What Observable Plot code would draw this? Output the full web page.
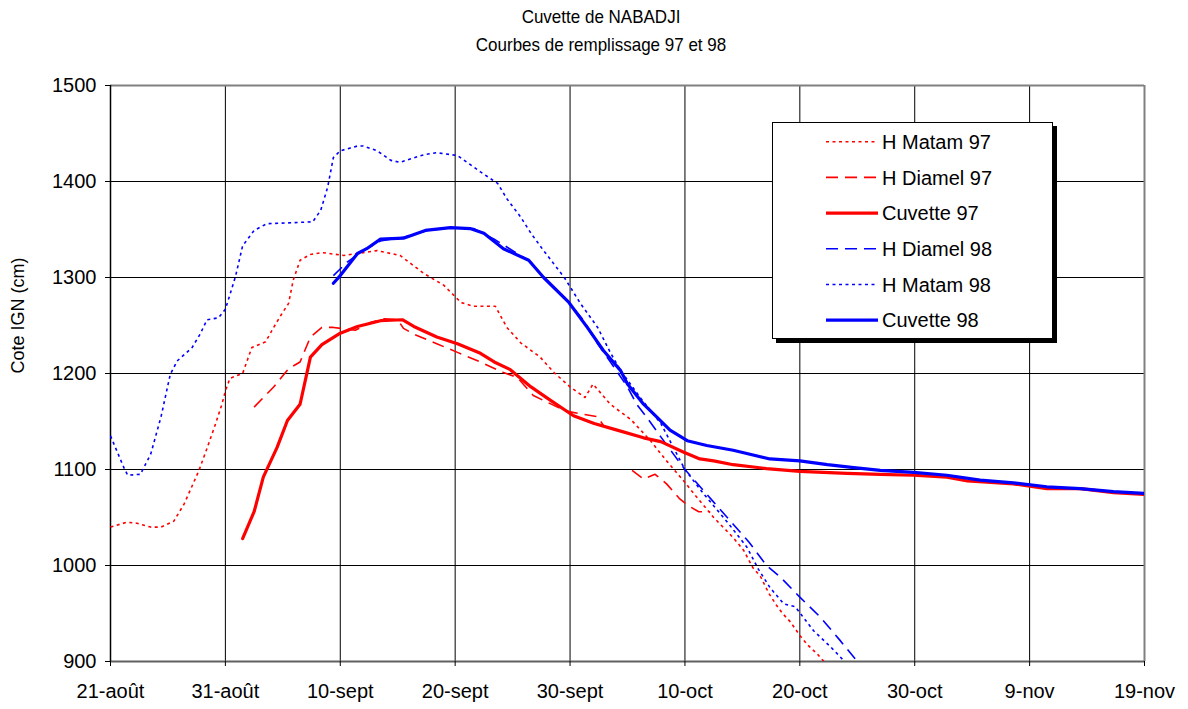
<!DOCTYPE html>
<html>
<head>
<meta charset="utf-8">
<script src="https://cdn.jsdelivr.net/npm/d3@7"></script>
<script src="https://cdn.jsdelivr.net/npm/@observablehq/plot@0.6"></script>
<style>
  html, body { margin: 0; padding: 0; background: #fff; }
  #wrap { position: relative; width: 1188px; height: 709px; font-family: 'Liberation Sans', Arial, sans-serif; color: #000; }
  .ttl { position: absolute; left: 0; width: 1202px; text-align: center; font-size: 17px; line-height: 20px; transform: scaleY(1.08); }
  #chart { position: absolute; left: 0; top: 60px; }
  #legend { position: absolute; left: 772px; top: 122px; width: 279px; height: 215px; background: #fff; border: 1px solid #000; box-shadow: 4px 4px 0 #000; }
</style>
</head>
<body>
<div id="wrap">
  <div class="ttl" id="title" style="top:8px"></div>
  <div class="ttl" id="subtitle" style="top:36px"></div>
  <div id="chart"></div>
  <div id="legend"></div>
</div>
<script>
// ---- Texts ----
const titleText = "Cuvette de NABADJI";
const subtitleText = "Courbes de remplissage 97 et 98";
const yLabel = "Cote IGN (cm)";

// ---- Axis ticks (x = days since 21 August) ----
const xTicks = [0, 10, 20, 30, 40, 50, 60, 70, 80, 90];
const xTickLabels = ["21-août", "31-août", "10-sept", "20-sept", "30-sept", "10-oct", "20-oct", "30-oct", "9-nov", "19-nov"];
const yTicks = [900, 1000, 1100, 1200, 1300, 1400, 1500];

// ---- Series ----
const seriesNames = ["H Matam 97", "H Diamel 97", "Cuvette 97", "H Diamel 98", "H Matam 98", "Cuvette 98"];

const matam97Days = [0, 1.4, 2.3, 3.5, 4.4, 5.5, 6.4, 7, 7.7, 8.4, 9.1, 9.7, 10, 10.4, 11.5, 12.3, 13.5, 14.2, 14.9, 15.5, 15.9, 16.5, 17.4, 18.4, 20.3, 23.2, 25.2, 27.3, 29, 30.5, 31.6, 33.5, 34.5, 35.7, 37.4, 38.6, 40, 41.3, 42, 43.5, 45.3, 47, 48.4, 49.9, 50.9, 52.5, 53.4, 54.2, 55.1, 55.9, 56.6, 57.3, 58, 58.5, 59.2, 60, 60.7, 61.5, 62.1];
const matam97Values = [1040, 1045, 1044, 1040, 1040, 1046, 1064, 1080, 1099, 1122, 1146, 1168, 1182, 1195, 1200, 1227, 1233, 1248, 1262, 1273, 1297, 1318, 1324, 1326, 1323, 1328, 1323, 1304, 1292, 1274, 1270, 1270, 1248, 1232, 1217, 1201, 1186, 1175, 1189, 1168, 1152, 1130, 1109, 1088, 1073, 1050, 1039, 1029, 1016, 998, 988, 971, 958, 950, 941, 927, 917, 908, 900];

const diamel97Days = [12.5, 14.2, 15.5, 16.5, 17.4, 18.4, 19.4, 21.3, 22.6, 23.8, 25, 25.5, 26.4, 28.4, 30.2, 32.2, 34.2, 35.4, 36.8, 38.9, 40, 42.4, 42.9, 44, 45.4, 46.4, 47.4, 48.4, 49.5, 50.2, 51.2, 52.2];
const diamel97Values = [1165, 1186, 1205, 1212, 1238, 1248, 1248, 1245, 1253, 1257, 1256, 1247, 1241, 1231, 1222, 1212, 1201, 1196, 1177, 1165, 1160, 1155, 1146, null, 1099, 1090, 1095, 1085, 1070, 1063, 1056, 1056];

const cuvette97Days = [11.5, 12.5, 13.3, 14.5, 15.4, 16.5, 17.4, 18.4, 20, 21.5, 23.5, 25.4, 26.4, 28.4, 30.2, 32.2, 33.4, 34.8, 36.6, 38.3, 40.3, 42.1, 44.1, 46.4, 47.9, 49.9, 51.3, 52.5, 54.2, 57.1, 60, 64.1, 67, 69.9, 72.8, 74.6, 78.6, 81.5, 84.4, 87.3, 90];
const cuvette97Values = [1028, 1056, 1092, 1123, 1151, 1168, 1217, 1230, 1242, 1249, 1255, 1256, 1249, 1238, 1231, 1221, 1212, 1204, 1186, 1172, 1156, 1148, 1141, 1133, 1129, 1118, 1111, 1109, 1105, 1101, 1098, 1096, 1095, 1094, 1092, 1088, 1085, 1080, 1080, 1076, 1074];

const diamel98Days = [19.4, 20.6, 22, 23.5, 25.5, 27.6, 29.6, 31.6, 33.4, 35.4, 36.6, 37.7, 39.9, 41.2, 42.4, 43.8, 45, 45.8, 46.7, 47.9, 49, 50, 52.5, 54.2, 55.6, 57.1, 58.3, 60, 61.8, 63.5, 65];
const diamel98Values = [1302, 1316, 1328, 1338, 1342, 1349, 1352, 1351, 1340, 1325, 1316, 1300, 1274, 1255, 1231, 1207, 1186, 1168, 1154, 1134, 1116, 1100, 1066, 1043, 1024, 1000, 988, 967, 946, 922, 900];

const matam98Days = [0, 1.2, 1.5, 2.6, 3.5, 4.4, 5.2, 5.8, 7.1, 7.8, 8.4, 9.4, 10, 10.6, 10.9, 11.5, 12.5, 13.6, 17.6, 18.3, 18.9, 19.4, 20, 21.5, 22, 23.2, 24.4, 25.2, 27.3, 28.4, 30.2, 32.2, 33.7, 34.5, 35.7, 36.6, 37.7, 39.5, 40.9, 42.4, 43.5, 44.4, 46.1, 47.9, 50, 51.6, 53.7, 55.4, 56.4, 57.4, 58.6, 59.6, 61.2, 62.7, 63.9];
const matam98Values = [1135, 1101, 1094, 1095, 1116, 1155, 1199, 1213, 1227, 1241, 1256, 1258, 1267, 1290, 1302, 1333, 1349, 1356, 1358, 1370, 1394, 1425, 1432, 1437, 1437, 1432, 1422, 1420, 1428, 1430, 1427, 1410, 1398, 1382, 1363, 1346, 1328, 1300, 1273, 1248, 1222, 1203, 1175, 1148, 1100, 1075, 1045, 1019, 996, 977, 960, 957, 932, 915, 900];

const cuvette98Days = [19.4, 20, 21.5, 22.3, 23.5, 25.5, 27.4, 29.6, 31.3, 32.5, 34.2, 36.4, 37.7, 39.9, 41.5, 42.9, 44.4, 45, 46.4, 47.6, 48.7, 50.2, 51.9, 54.2, 57.4, 60, 62.4, 64.7, 67, 69.9, 72.8, 75.7, 78.6, 81.5, 84.4, 87.3, 90];
const cuvette98Values = [1294, 1302, 1325, 1330, 1340, 1341, 1349, 1352, 1351, 1346, 1330, 1318, 1300, 1274, 1248, 1224, 1203, 1189, 1168, 1154, 1141, 1130, 1125, 1120, 1111, 1109, 1105, 1102, 1099, 1097, 1094, 1089, 1086, 1082, 1080, 1077, 1075];

// ---- Styles (presentation only) ----
const RED = "#ff0000", BLUE = "#0000ff";
const styles = {
  "H Matam 97":  {stroke: RED,  strokeWidth: 1.6, dash: "3,3.5"},
  "H Diamel 97": {stroke: RED,  strokeWidth: 1.6, dash: "12,7"},
  "Cuvette 97":  {stroke: RED,  strokeWidth: 3.2, dash: null},
  "H Diamel 98": {stroke: BLUE, strokeWidth: 1.6, dash: "12,7"},
  "H Matam 98":  {stroke: BLUE, strokeWidth: 1.6, dash: "3,3.5"},
  "Cuvette 98":  {stroke: BLUE, strokeWidth: 3.2, dash: null}
};

const zip = (days, vals) => days.map((d, i) => ({day: d, value: vals[i]}));
const seriesData = {
  "H Matam 97": zip(matam97Days, matam97Values),
  "H Diamel 97": zip(diamel97Days, diamel97Values),
  "Cuvette 97": zip(cuvette97Days, cuvette97Values),
  "H Diamel 98": zip(diamel98Days, diamel98Values),
  "H Matam 98": zip(matam98Days, matam98Values),
  "Cuvette 98": zip(cuvette98Days, cuvette98Values)
};

document.getElementById("title").textContent = titleText;
document.getElementById("subtitle").textContent = subtitleText;

const drawOrder = ["H Matam 97", "H Diamel 97", "H Matam 98", "H Diamel 98", "Cuvette 97", "Cuvette 98"];
const lineMarks = drawOrder.map(name => Plot.line(seriesData[name], {
  x: "day", y: "value",
  stroke: styles[name].stroke,
  strokeWidth: styles[name].strokeWidth,
  strokeDasharray: styles[name].dash || undefined,
  strokeLinejoin: "round",
  strokeLinecap: styles[name].dash ? "butt" : "round",
  clip: true
}));

const chart = Plot.plot({
  width: 1188,
  height: 649,
  marginTop: 25,
  marginBottom: 48,
  marginLeft: 110,
  marginRight: 44,
  x: {domain: [0, 90]},
  y: {domain: [900, 1500]},
  style: {fontFamily: "'Liberation Sans', Arial, sans-serif", fontSize: "20px", color: "#000", background: "#fff", overflow: "visible"},
  marks: [
    Plot.gridX(xTicks, {stroke: "#000", strokeOpacity: 1, strokeWidth: 1}),
    Plot.gridY(yTicks, {stroke: "#000", strokeOpacity: 1, strokeWidth: 1}),
    Plot.ruleY([1500], {stroke: "#808080", strokeWidth: 2}),
    Plot.ruleX([90], {stroke: "#808080", strokeWidth: 2}),
    Plot.ruleY([900], {stroke: "#606060", strokeWidth: 2}),
    Plot.ruleX([0], {stroke: "#000", strokeWidth: 1.5}),
    ...lineMarks,
    Plot.axisX({ticks: xTicks, tickFormat: d => xTickLabels[xTicks.indexOf(d)], tickSize: 5, tickPadding: 17, label: null, fontSize: 20}),
    Plot.axisY({ticks: yTicks, tickFormat: d => String(d), tickSize: 5, tickPadding: 9, label: null, fontSize: 20}),
    Plot.text([yLabel], {frameAnchor: "left", dx: -92, rotate: -90, text: d => d, fontSize: 18})
  ]
});
document.getElementById("chart").appendChild(chart);

// ---- Legend ----
const legend = d3.select("#legend");
const rowGap = 35.7;
const lsvg = legend.append("svg").attr("width", 279).attr("height", 215)
  .style("font-family", "'Liberation Sans', Arial, sans-serif");
seriesNames.forEach((name, i) => {
  const y = 18.7 + i * rowGap;
  const s = styles[name];
  lsvg.append("line").attr("x1", 53).attr("x2", 105).attr("y1", y).attr("y2", y)
    .attr("stroke", s.stroke).attr("stroke-width", s.strokeWidth)
    .attr("stroke-dasharray", s.dash);
  lsvg.append("text").attr("x", 109).attr("y", y).attr("dy", "0.36em")
    .attr("font-size", 20).attr("fill", "#000").text(name);
});
</script>
</body>
</html>
